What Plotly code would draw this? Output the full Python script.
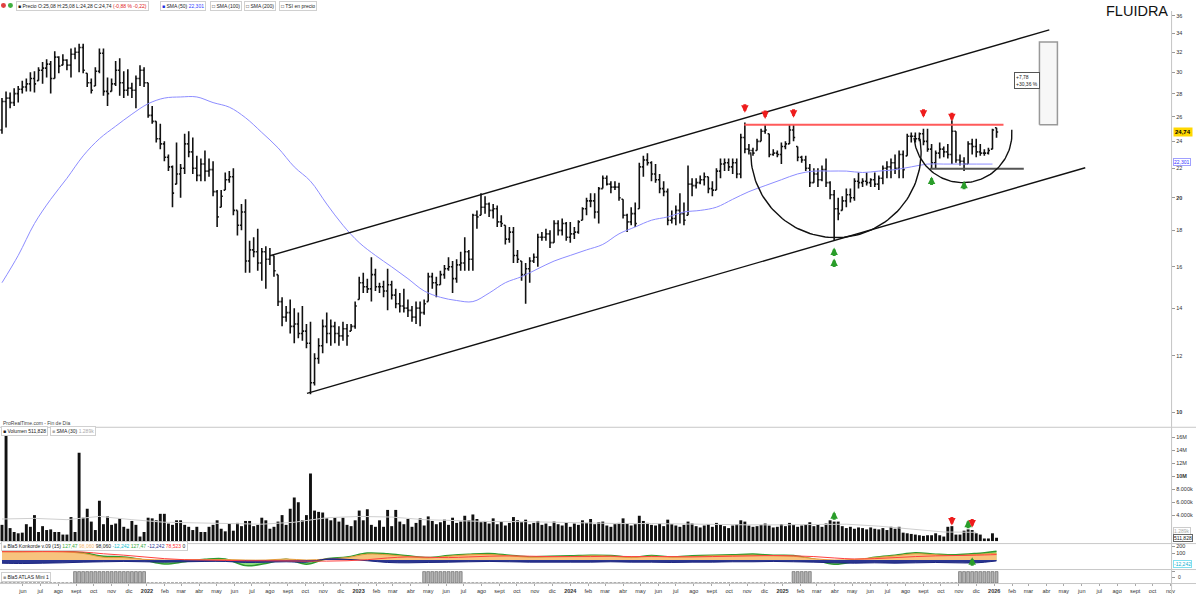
import numpy as np
import pandas as pd
import plotly.graph_objects as go

W, H = 1200, 594

# ---------------- weekly OHLC ----------------
open_ = [24.9,27.3,27.6,27.2,28.0,28.4,28.6,28.9,29.4,29.2,
 30.2,30.4,30.8,29.4,31.5,30.7,31.2,30.7,31.8,32.0,
 32.5,29.9,29.0,28.7,30.1,31.9,28.2,28.2,28.9,30.2,
 29.0,28.3,28.5,28.3,29.4,30.2,29.0,26.1,25.6,24.2,
 23.8,22.8,22.1,20.9,21.6,22.0,23.8,23.2,22.0,21.5,
 22.3,21.8,21.9,20.4,19.4,20.5,21.2,21.4,19.2,18.3,
 19.1,16.3,16.9,16.8,16.2,16.8,16.4,16.6,15.6,14.3,
 13.6,13.8,13.2,13.3,12.9,13.0,12.5,11.0,11.9,12.4,
 13.2,12.9,13.2,12.9,12.8,13.1,13.0,13.2,14.4,15.2,
 15.0,14.9,15.6,15.0,15.0,14.8,15.1,14.6,14.2,14.1,
 14.0,13.9,13.6,14.0,13.8,14.3,15.5,15.2,15.1,15.6,
 15.9,16.0,15.4,16.1,16.2,16.8,16.4,18.9,18.9,19.4,
 19.6,19.2,19.3,18.5,18.3,17.5,17.9,16.6,16.3,15.6,
 15.9,16.3,16.5,17.6,17.6,17.8,17.3,18.4,18.0,18.4,
 17.6,17.8,17.9,18.6,19.3,19.8,19.8,19.1,20.6,21.3,
 20.9,20.7,20.7,19.9,18.9,18.5,19.0,19.3,22.1,22.6,
 22.4,21.6,21.2,20.6,20.4,18.6,18.7,19.2,19.0,18.9,
 20.9,20.8,21.0,21.2,21.4,20.6,20.5,21.8,22.3,22.4,
 22.1,22.4,21.6,24.3,23.4,23.3,23.3,24.0,24.8,24.6,
 23.0,23.1,23.0,23.6,23.8,24.9,23.6,22.8,22.6,22.0,
 21.0,21.6,21.2,21.9,21.0,20.2,19.3,19.2,19.8,20.2,
 20.0,21.1,21.0,21.1,21.0,21.2,20.9,21.3,22.0,22.1,
 22.4,22.0,23.0,22.9,24.4,24.4,24.2,24.6,24.0,23.4,
 22.4,23.1,23.4,23.2,23.0,24.8,22.6,22.5,22.3,23.8,
 23.6,23.2,23.1,23.1,23.4,25.08]
high = [27.6,28.2,28.1,28.5,28.7,29.2,29.4,30.0,30.1,30.5,
 31.0,31.3,31.1,32.1,31.6,31.8,31.3,32.4,32.5,32.9,
 32.9,29.9,29.4,30.5,32.4,32.4,29.5,29.4,31.1,31.4,
 30.1,30.3,29.0,29.7,30.7,30.5,29.0,26.9,25.6,25.4,
 24.0,23.0,22.2,23.9,22.3,24.6,24.8,24.3,22.9,22.7,
 23.3,22.7,22.5,20.5,20.5,21.7,21.8,22.0,19.2,19.6,
 19.9,17.4,17.6,18.1,17.0,17.1,17.0,16.6,15.6,14.5,
 14.1,14.4,14.0,13.8,14.1,13.3,13.4,12.1,12.7,13.5,
 13.8,13.5,13.4,13.2,13.4,13.3,13.3,14.3,15.5,15.7,
 15.4,16.5,15.9,15.2,15.3,15.9,15.3,14.9,14.7,14.9,
 14.4,14.1,14.3,14.3,14.4,15.7,15.7,15.5,15.8,16.1,
 16.5,16.3,16.4,16.8,17.6,16.9,19.0,19.2,20.3,20.1,
 19.7,19.6,19.5,18.9,18.3,18.2,18.2,16.9,16.3,16.2,
 16.5,16.7,17.8,17.9,18.1,18.0,18.6,18.6,18.7,18.5,
 18.5,18.2,18.6,19.4,20.0,20.3,20.3,20.7,21.5,21.5,
 21.1,21.1,21.0,19.9,19.0,19.4,19.7,22.4,22.9,23.1,
 22.5,22.3,21.6,21.1,20.6,19.2,19.5,20.3,19.7,22.2,
 21.3,21.3,21.5,21.7,21.4,21.1,22.0,22.7,22.7,22.7,
 22.7,22.7,24.6,25.5,23.8,23.5,24.2,25.0,25.3,24.6,
 23.4,23.3,23.9,24.0,25.3,25.3,23.6,22.9,22.9,22.3,
 22.0,22.0,22.2,22.7,21.1,20.5,20.0,20.1,20.6,20.6,
 21.3,21.7,21.3,21.7,21.3,21.7,21.5,22.2,22.5,22.7,
 23.0,23.3,23.3,24.6,24.7,24.7,24.7,25.0,25.0,23.8,
 23.3,23.9,23.6,23.8,25.7,24.8,23.0,22.8,24.0,24.2,
 24.2,23.8,23.4,23.5,25.0,25.08]
low = [24.6,25.1,26.7,26.9,27.2,28.0,28.2,28.2,28.1,29.2,
 28.9,29.5,28.0,29.4,29.9,30.7,30.2,29.5,31.3,30.0,
 29.9,28.6,28.0,28.7,29.9,27.8,26.9,28.2,28.7,27.8,
 27.6,27.8,27.6,26.7,28.7,28.6,25.9,25.4,23.9,23.4,
 22.5,21.8,19.4,20.9,20.0,21.6,22.8,21.6,21.1,21.1,
 21.1,21.4,20.1,18.2,19.4,20.5,21.0,18.9,17.7,18.0,
 15.7,15.7,16.5,15.8,15.3,14.9,16.1,15.5,14.1,13.2,
 13.4,12.9,12.5,12.7,12.6,12.3,10.6,10.9,11.7,12.1,
 12.5,12.4,12.5,12.4,12.6,12.4,13.0,13.1,14.4,14.7,
 14.7,14.3,14.8,14.7,14.5,13.9,14.4,14.0,13.8,13.8,
 13.6,13.4,13.3,13.2,13.7,14.3,14.9,14.5,15.1,15.4,
 15.8,14.7,15.2,15.8,15.8,15.8,15.8,18.1,18.9,19.0,
 18.8,18.7,18.2,18.2,17.2,17.3,16.2,16.2,15.3,14.2,
 15.2,16.2,16.0,17.4,17.4,17.0,17.3,17.7,17.7,17.4,
 17.3,17.5,17.8,18.6,18.9,19.4,18.7,18.4,20.6,20.8,
 20.3,20.5,19.8,18.7,17.9,18.3,18.2,19.3,21.4,22.2,
 21.1,21.0,20.3,20.1,18.3,18.4,18.3,18.4,18.3,18.9,
 20.1,20.6,20.9,20.8,20.3,20.1,20.5,21.3,21.8,21.8,
 21.6,21.3,21.3,23.1,23.0,22.9,23.3,24.0,24.6,22.8,
 22.9,22.8,22.3,23.4,23.8,24.0,22.5,22.4,21.8,20.7,
 21.0,20.7,21.1,20.7,19.9,17.4,18.6,19.2,19.4,19.7,
 19.8,20.6,20.7,20.8,20.7,20.7,20.5,20.9,21.3,21.3,
 21.6,21.3,21.3,22.9,23.9,23.9,24.0,23.7,23.2,22.0,
 22.0,22.7,22.8,22.7,22.3,22.4,22.2,21.8,22.3,23.0,
 22.8,22.9,22.9,23.0,23.4,24.28]
close = [27.3,27.6,27.2,28.0,28.4,28.6,28.9,29.4,28.9,30.2,
 30.4,30.8,29.4,31.5,30.6,31.2,30.7,31.8,32.0,32.5,
 30.2,29.0,28.3,30.1,31.9,28.2,28.0,28.9,30.2,29.0,
 28.3,28.5,28.3,29.4,30.2,29.0,26.1,25.6,24.2,23.8,
 22.8,22.1,20.3,21.6,22.0,23.8,23.2,22.0,21.5,22.3,
 21.8,21.9,20.4,18.8,20.1,21.2,21.4,19.2,18.3,19.1,
 16.3,16.9,16.8,16.2,16.8,16.4,16.6,15.8,14.3,13.6,
 13.8,13.2,13.3,12.9,13.0,12.5,11.0,11.9,12.4,13.2,
 12.9,13.2,12.9,12.8,13.1,12.8,13.2,14.1,15.2,15.0,
 14.9,15.6,15.0,15.0,14.8,15.1,14.6,14.2,14.1,14.0,
 13.9,13.6,14.0,13.8,14.2,15.5,15.2,15.1,15.6,15.9,
 16.0,15.4,16.1,16.2,16.8,16.4,18.9,18.8,19.4,19.6,
 19.2,19.3,18.5,18.4,17.5,17.9,16.6,16.4,15.6,15.9,
 16.3,16.5,17.6,17.6,17.8,17.3,18.4,18.0,18.4,17.6,
 17.8,17.9,18.5,19.3,19.8,19.8,19.1,20.6,21.3,20.9,
 20.7,20.7,20.0,18.9,18.5,19.0,18.4,22.1,22.6,22.4,
 21.6,21.2,20.6,20.4,18.6,18.7,19.2,19.0,18.6,20.9,
 20.8,21.0,21.2,21.4,20.6,20.5,21.8,22.3,22.4,22.1,
 22.4,21.6,24.3,23.4,23.3,23.1,24.0,24.8,24.9,23.0,
 23.1,23.0,23.6,23.8,24.9,24.3,22.8,22.6,22.0,21.0,
 21.6,21.2,21.9,21.0,20.2,19.3,19.0,19.8,20.2,20.0,
 21.1,21.0,21.1,21.0,21.2,20.9,21.3,22.0,22.1,22.4,
 22.0,23.0,21.9,24.4,24.4,24.2,24.6,24.0,23.4,22.4,
 23.1,23.4,23.2,23.0,24.8,22.6,22.5,22.3,23.8,23.6,
 23.2,23.1,23.1,23.3,24.9,24.74]

# weekly volume, millions of shares
volume_m = [2.5,16.2,2.0,1.4,1.2,1.3,2.6,2.2,4.0,1.4,
 2.3,1.7,1.8,1.4,1.4,1.0,1.0,3.7,1.4,13.6,
 3.6,5.0,3.0,1.7,6.2,2.6,3.8,2.5,2.7,3.5,
 2.2,1.9,3.1,2.5,0.7,1.4,3.6,3.5,3.2,4.2,
 4.2,2.7,2.5,3.2,3.2,2.5,2.2,1.7,2.2,1.4,
 1.4,2.2,2.5,3.2,1.9,1.5,2.7,1.6,2.8,2.3,
 3.1,3.1,2.3,2.5,3.6,3.2,1.9,2.2,3.0,4.0,
 2.5,5.0,6.7,6.0,3.2,4.0,10.4,4.7,4.5,4.4,
 3.5,3.2,3.6,3.0,3.6,2.5,2.3,3.2,4.7,3.2,
 4.9,2.5,2.2,3.2,2.2,4.8,2.3,4.8,
 3.0,2.6,3.4,2.2,2.8,3.5,2.4,3.8,3.1,2.6,2.9,3.3,2.5,
 3.6,2.8,3.0,3.9,3.2,4.1,3.4,2.9,3.1,2.7,3.5,2.6,3.0,2.4,2.8,
 3.7,3.2,2.9,3.3,2.6,2.8,3.1,2.5,2.7,2.3,3.0,2.6,2.4,2.9,2.2,
 2.7,2.5,3.2,2.8,3.4,2.6,2.9,3.0,2.4,2.2,2.6,2.8,3.5,2.7,2.4,
 2.6,3.9,3.1,2.8,2.5,2.4,2.7,2.3,3.3,2.6,2.4,2.2,2.5,3.0,2.7,
 2.3,2.1,2.4,2.6,2.2,2.8,2.5,2.3,2.0,2.4,2.6,3.2,3.0,2.4,2.2,
 2.3,2.5,2.7,2.4,2.1,2.2,2.6,2.3,2.8,2.5,2.2,2.4,2.6,2.9,2.3,
 2.5,2.2,2.7,3.2,3.0,3.0,2.3,2.0,2.2,1.9,2.1,2.0,1.8,2.1,1.9,
 1.8,2.0,1.7,2.2,1.9,
 2.2,1.3,1.2,1.1,1.0,0.9,0.8,0.9,0.9,1.2,0.9,0.7,2.2,2.3,1.0,
 1.0,1.6,1.8,1.7,1.2,1.0,0.4,0.4,1.2,0.51]

# SMA(50) of price, read every 4th week
sma50_every4 = [15.2,16.6,18.4,19.9,21.3,22.9,24.2,25.2,26.2,27.1,
 27.6,27.7,27.7,27.2,26.8,25.9,24.7,23.5,22.1,21.1,
 19.6,18.3,17.3,16.6,16.0,15.4,14.8,14.5,14.35,14.3,
 14.7,15.2,15.5,15.9,16.3,16.6,16.9,17.2,17.8,18.2,
 18.6,18.8,19.1,19.2,19.4,19.9,20.4,20.8,21.2,21.6,
 21.8,21.8,21.8,21.7,21.8,21.9,22.1,22.3,22.3,22.3,
 22.3,22.3]
# volume SMA(30), millions, every 8th week
vol_sma30_every8 = [3.4,3.5,3.3,3.8,3.3,2.9,2.8,2.7,2.6,2.9,3.6,3.8,3.7,3.3,3.1,3.0,
 3.0,2.9,2.7,2.7,2.7,2.6,2.5,2.5,2.5,2.5,2.6,2.3,1.8,1.4,1.35]

# Konkorde components, every 5th week
konk_marron = [120,118,122,118,95,40,35,10,0,5, 5,8,0,0,15,0,15,35,85,75,
 50,30,55,75,80,60,40,45,50,60, 55,35,55,40,50,60,65,70,60,55,
 20,0,10,35,60,90,75,65,80,98]
konk_verde = [130,128,132,125,105,55,45,0,-55,-25, 10,15,-80,-50,10,-60,20,45,100,90,
 60,35,65,85,95,70,45,55,60,70, 65,40,65,45,60,70,75,85,70,65,
 10,-60,-20,40,70,105,85,75,95,127.47]
konk_azul = [-45,-50,-45,-40,-30,-25,-20,-25,-30,-25, -20,-20,-35,-30,-25,-30,15,10,-10,-35,
 -40,-35,-30,-25,-20,-25,-30,-30,-30,-30, -25,-30,-30,-35,-30,-30,-25,-25,-20,-25,
 -30,-40,-45,-40,-45,-40,-35,-40,-40,-12.24]
konk_media = [120,120,121,120,115,90,70,45,20,5, 0,-5,-10,-10,-12,-15,-15,-10,5,30,
 45,40,35,45,55,60,55,50,50,50, 55,50,50,50,45,50,55,60,65,60,
 50,30,15,20,35,50,60,65,70,78.52]

atlas_periods = [("2021-08-30", "2021-12-27"), ("2023-04-24", "2023-06-26"),
                 ("2025-01-20", "2025-02-17"), ("2025-11-03", "2026-01-05")]

price_ticks = [10, 12, 14, 16, 18, 20, 22, 24, 26, 28, 30, 32, 34, 36]
vol_ticks = [4, 6, 8, 10, 12, 14, 16]
vol_ticktext = ["4.000k", "6.000k", "8.000k", "<b>10M</b>", "12M", "14M", "16M"]
month_abbr = ["", "feb", "mar", "abr", "may", "jun", "jul", "ago", "sept", "oct", "nov", "dic"]

# hand-drawn chart objects (dates, prices)
upper_channel = (["2022-08-03", "2026-04-06"], [16.6, 34.4])
lower_channel = (["2022-10-04", "2026-06-07"], [10.63, 22.04])
resistance = (["2024-10-27", "2026-01-17"], [25.32, 25.32])
support = (["2025-09-12", "2026-02-21"], [21.97, 21.97])
measure_box = (["2026-03-20", "2026-04-20"], [25.32, 33.09])
big_cup = dict(center="2025-04-03", price=23.17, r_weeks=20.99, r_log=0.1198, t0=180, t1=-9)
small_cup = dict(center="2025-11-08", price=24.61, r_weeks=12.08, r_log=0.0689, t0=175, t1=-4.4)
sell_idx, sell_price = [183, 188, 195, 227, 234], [26.32, 25.8, 25.9, 25.9, 25.6]
buy_idx, buy_price = [205, 205, 229, 237], [17.03, 16.44, 21.43, 21.13]

# ---------------- build ----------------
dates = pd.date_range(end="2026-01-05", periods=len(close), freq="W-MON")
atlas = np.zeros(len(dates))
for a, b in atlas_periods:
    atlas[(dates >= a) & (dates <= b)] = 1

def dom(top_px, bot_px):
    return [1 - bot_px / H, 1 - top_px / H]

def arc(c):
    th = np.radians(np.linspace(c["t0"], c["t1"], 90))
    d = pd.Timestamp(c["center"]) + pd.to_timedelta(c["r_weeks"] * 7 * np.cos(th), unit="D")
    p = 10 ** (np.log10(c["price"]) - c["r_log"] * np.sin(th))
    return d, p

fig = go.Figure()
BLK = "#111111"

fig.add_trace(go.Scatter(x=dates[::4], y=sma50_every4, mode="lines", yaxis="y",
                         line=dict(color="#8c8cff", width=1, shape="spline"), hoverinfo="skip"))
fig.add_trace(go.Ohlc(x=dates, open=open_, high=high, low=low, close=close, yaxis="y",
                      increasing=dict(line=dict(color=BLK, width=1.6)),
                      decreasing=dict(line=dict(color=BLK, width=1.6)), tickwidth=0.4))

for (xs, ys) in [upper_channel, lower_channel]:
    fig.add_trace(go.Scatter(x=xs, y=ys, mode="lines", yaxis="y", line=dict(color=BLK, width=1.4)))
fig.add_trace(go.Scatter(x=resistance[0], y=resistance[1], mode="lines", yaxis="y",
                         line=dict(color="#ff5a5a", width=2)))
fig.add_trace(go.Scatter(x=support[0], y=support[1], mode="lines", yaxis="y",
                         line=dict(color="#555555", width=2)))
for c in (big_cup, small_cup):
    d, p = arc(c)
    fig.add_trace(go.Scatter(x=d, y=p, mode="lines", yaxis="y", line=dict(color=BLK, width=1.4)))
bx, by = measure_box
fig.add_trace(go.Scatter(x=[bx[0], bx[1], bx[1], bx[0], bx[0]], y=[by[0], by[0], by[1], by[1], by[0]],
                         mode="lines", fill="toself", fillcolor="#f7f7f7", yaxis="y",
                         line=dict(color="#999999", width=1.5)))

# volume
fig.add_trace(go.Bar(x=dates, y=volume_m, yaxis="y2", marker=dict(color=BLK, line=dict(width=0)),
                     width=5 * 86400000))
fig.add_trace(go.Scatter(x=dates[::8], y=vol_sma30_every8, mode="lines", yaxis="y2",
                         line=dict(color="#cfcfcf", width=1)))

# konkorde
kx = dates[::5]
fig.add_trace(go.Scatter(x=kx, y=konk_verde, mode="lines", yaxis="y3", fill="tozeroy",
                         fillcolor="#8fdc7f", line=dict(color="#2f9a2f", width=1.5, shape="spline")))
fig.add_trace(go.Scatter(x=kx, y=konk_marron, mode="lines", yaxis="y3", fill="tozeroy",
                         fillcolor="#f7c47e", line=dict(color="#e59a3c", width=1, shape="spline")))
fig.add_trace(go.Scatter(x=kx, y=konk_azul, mode="lines", yaxis="y3", fill="tozeroy",
                         fillcolor="#2a3590", line=dict(color="#1c2580", width=1, shape="spline")))
fig.add_trace(go.Scatter(x=kx, y=konk_media, mode="lines", yaxis="y3",
                         line=dict(color="#ff4040", width=1, shape="spline")))

# atlas
fig.add_trace(go.Bar(x=dates, y=atlas, yaxis="y4", width=5 * 86400000,
                     marker=dict(color="#b4b4b4", line=dict(color="#5a5a5a", width=0.6))))

# ---------------- axes ----------------
tick_dates = pd.date_range("2021-06-01", "2026-11-01", freq="MS")
tick_text = [f"<b>{d.year}</b>" if d.month == 1 else month_abbr[d.month - 1] for d in tick_dates]
axfont = dict(size=5.5, color="#333333", family="Arial, Liberation Sans")
common_y = dict(side="right", anchor="x", showgrid=False, zeroline=False, ticks="outside",
                ticklen=3, tickcolor="#999999", showline=True, linecolor="#c8c8c8")

fig.update_layout(
    width=W, height=H, margin=dict(l=0, r=0, t=0, b=0),
    paper_bgcolor="white", plot_bgcolor="white", showlegend=False,
    font=dict(family="Arial, Liberation Sans", color="#222222"),
    xaxis=dict(domain=[0, 1175 / W], type="date", range=["2021-04-22 14:00", "2026-11-02"],
               anchor="y4", tickvals=tick_dates, ticktext=tick_text, tickfont=axfont,
               ticks="outside", ticklen=2, tickcolor="#aaaaaa", showgrid=False, zeroline=False,
               showline=True, linecolor="#c8c8c8", rangeslider=dict(visible=False), tickangle=0),
    yaxis=dict(type="log", domain=dom(10, 426), range=[np.log10(9.558), np.log10(36.57)],
               tickvals=price_ticks, ticktext=[f"<b>{t}</b>" if t in (10, 20) else str(t) for t in price_ticks],
               tickfont=axfont, **common_y),
    yaxis2=dict(domain=dom(428, 543), range=[-0.31, 17.38], tickvals=vol_ticks, ticktext=vol_ticktext,
                tickfont=axfont, **common_y),
    yaxis3=dict(domain=dom(544, 569), range=[-129, 229], tickvals=[100, 200], ticktext=["100", "200"],
                tickfont=axfont, **common_y),
    yaxis4=dict(domain=dom(571, 583), range=[0, 1.05], showticklabels=False, **common_y),
)

# ---------------- shapes ----------------
shapes = []
for py in (427, 543.5, 569.5, 583.5):
    shapes.append(dict(type="line", xref="paper", yref="paper", x0=0, x1=1, y0=1 - py / H, y1=1 - py / H,
                       line=dict(color="#c8c8c8", width=1)))
shapes.append(dict(type="line", xref="paper", yref="paper", x0=1175.5 / W, x1=1175.5 / W, y0=0, y1=1 - 10 / H,
                   line=dict(color="#c8c8c8", width=1)))
shapes.append(dict(type="circle", xref="paper", yref="paper", x0=1 / W, x1=6 / W, y0=1 - 7 / H, y1=1 - 2 / H,
                   fillcolor="#e04040", line=dict(width=0)))
shapes.append(dict(type="circle", xref="paper", yref="paper", x0=8 / W, x1=13 / W, y0=1 - 7 / H, y1=1 - 2 / H,
                   fillcolor="#40b040", line=dict(width=0)))
fig.update_layout(shapes=shapes)

# ---------------- annotations ----------------
ann = []
def txt(xp, yp, text, size=5, color="#222222", xanchor="left", **kw):
    d = dict(xref="paper", yref="paper", x=xp / W, y=1 - yp / H, text=text, showarrow=False,
             font=dict(size=size, color=color, family="Arial, Liberation Sans"),
             xanchor=xanchor, yanchor="middle")
    d.update(kw)
    return d

box = dict(bordercolor="#d0d0d0", borderwidth=1, borderpad=1, bgcolor="white")
ann.append(txt(16, 5, "■ Precio O:25,08 H:25,08 L:24,28 C:24,74 <span style='color:#e02020'>(-0,88 % -0,22)</span>", **box))
ann.append(txt(161, 5, "<span style='color:#2030e0'>■</span> SMA (50) <span style='color:#3040ff'>22,301</span>", **box))
ann.append(txt(211, 5, "□ SMA (100)", **box))
ann.append(txt(245, 5, "□ SMA (200)", **box))
ann.append(txt(280, 5, "□ TSI en precio", **box))
ann.append(txt(1141, 10, "FLUIDRA", size=14.5, color="#111111", xanchor="center"))
ann.append(txt(1, 423, "ProRealTime.com - Fin de Día", color="#444444"))
ann.append(txt(1, 431, "■ Volumen 511,828", **box))
ann.append(txt(50, 431, "<span style='color:#aaaaaa'>■</span> SMA (30) <span style='color:#aaaaaa'>1.289k</span>", **box))
ann.append(txt(1, 546, "<span style='color:#999'>■</span> Bla5 Konkorde v.09 (15) "
               "<span style='color:#3aa83a'>127,47</span> <span style='color:#f5b870'>98,060</span> "
               "98,060 <span style='color:#10c0d0'>-12,242</span> <span style='color:#3aa83a'>127,47</span> "
               "<span style='color:#2a3590'>-12,242</span> <span style='color:#ff3030'>78,523</span> 0", **box))
ann.append(txt(1, 577, "<span style='color:#999'>■</span> Bla5 ATLAS Mini 1", **box))

# right-hand value labels
ann.append(dict(xref="paper", yref="y", x=1177 / W, y=np.log10(24.74), text="<b>24,74</b>", showarrow=False,
                xanchor="left", yanchor="middle", bgcolor="#ffd700", borderpad=1,
                font=dict(size=6, color="#000000", family="Arial, Liberation Sans")))
ann.append(dict(xref="paper", yref="y", x=1177 / W, y=np.log10(22.301), yshift=2, text="22,301", showarrow=False,
                xanchor="left", yanchor="middle", bgcolor="white", bordercolor="#a0a0ff", borderwidth=1, borderpad=0,
                font=dict(size=5, color="#3030ff", family="Arial, Liberation Sans")))
ann.append(dict(xref="paper", yref="y2", x=1177 / W, y=1.6, text="1.289k", showarrow=False,
                xanchor="left", yanchor="middle", bgcolor="white", bordercolor="#cccccc", borderwidth=1, borderpad=0,
                font=dict(size=5, color="#aaaaaa", family="Arial, Liberation Sans")))
ann.append(dict(xref="paper", yref="y2", x=1177 / W, y=0.45, text="511,828", showarrow=False,
                xanchor="left", yanchor="middle", bgcolor="white", bordercolor="#666666", borderwidth=1, borderpad=0,
                font=dict(size=5, color="#222222", family="Arial, Liberation Sans")))
ann.append(dict(xref="paper", yref="y3", x=1177 / W, y=-12.24, yshift=-3, text="-12,242", showarrow=False,
                xanchor="left", yanchor="middle", bgcolor="white", bordercolor="#80e0f0", borderwidth=1, borderpad=0,
                font=dict(size=5, color="#10b0d0", family="Arial, Liberation Sans")))
ann.append(dict(xref="paper", yref="y4", x=1180 / W, y=0.5, text="0", showarrow=False,
                xanchor="left", yanchor="middle", font=dict(size=5, color="#333", family="Arial, Liberation Sans")))

# measurement label
ann.append(dict(xref="x", yref="y", x="2026-02-26", y=np.log10(29.18), text="+7,78<br>+30,36 %",
                showarrow=False, align="left", bgcolor="white", bordercolor="#555555", borderwidth=1, borderpad=1,
                font=dict(size=5, color="#222", family="Arial, Liberation Sans")))

def arrow(xd, y, yref, color, down):
    return dict(xref="x", yref=yref, x=xd, y=y, text="", showarrow=True, arrowhead=2, arrowsize=0.5,
                arrowwidth=3, arrowcolor=color, ax=0, ay=-10 if down else 10, standoff=0, startstandoff=0)

for i, p in zip(sell_idx, sell_price):
    ann.append(arrow(dates[i], np.log10(p), "y", "#ee1c1c", True))
for i, p in zip(buy_idx, buy_price):
    ann.append(arrow(dates[i], np.log10(p), "y", "#2a9d2a", False))
# volume / konkorde signals
ann.append(arrow(dates[205], 4.6, "y2", "#2a9d2a", False))
ann.append(arrow(dates[234], 2.4, "y2", "#ee1c1c", True))
ann.append(arrow(dates[238], 3.3, "y2", "#2a9d2a", False))
ann.append(arrow(dates[239], 2.1, "y2", "#ee1c1c", True))
ann.append(arrow(dates[239], 40, "y3", "#2a9d2a", False))

fig.update_layout(annotations=ann)
fig.write_html("out.html", config={"displayModeBar": False, "staticPlot": True},
               post_script="document.body.style.margin='0px';document.body.style.padding='0px';"
                           "document.body.style.overflow='hidden';")
